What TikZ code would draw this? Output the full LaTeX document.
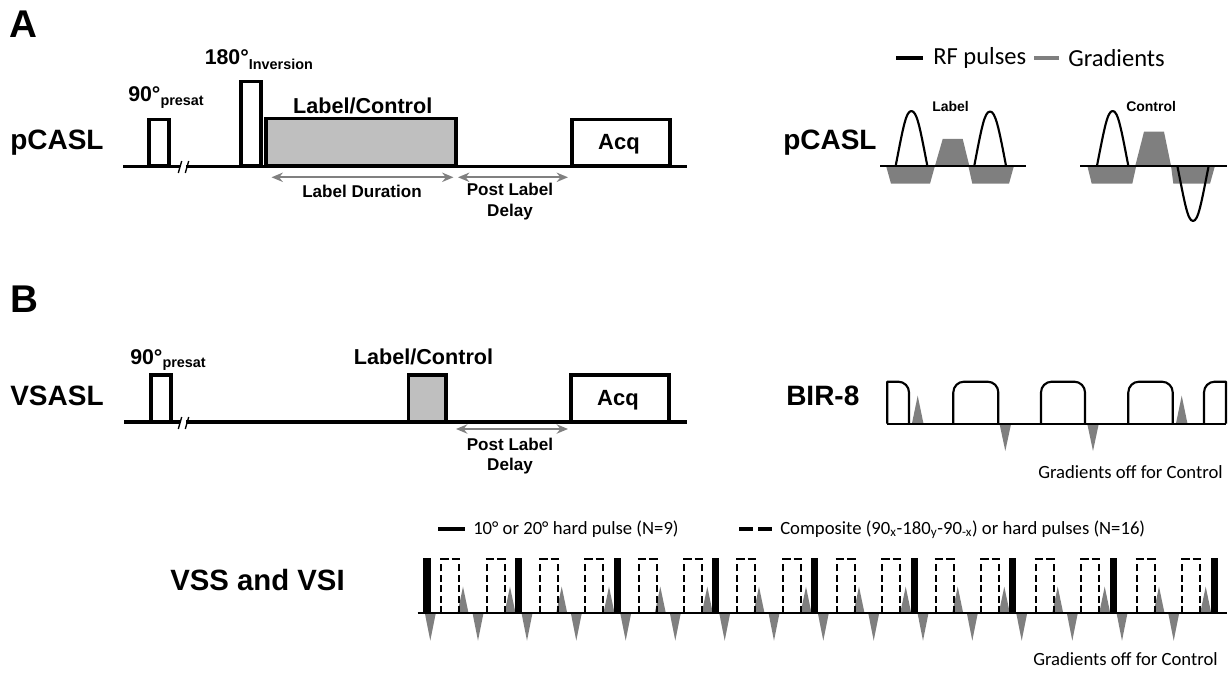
\documentclass[tikz,border=0pt]{standalone}
\usepackage{fontspec}
\setmainfont{Liberation Sans}
\newfontfamily\calfont{Carlito}
\usetikzlibrary{arrows.meta}
\newcommand{\fsz}[1]{\fontsize{#1}{#1}\selectfont}
\tikzset{
  >={Stealth[length=8.5pt,width=7pt]},
  seqline/.style={line width=2.5pt, black},
  pulsebox/.style={line width=2.5pt, black, fill=white, line join=miter},
  labelbox/.style={line width=2.5pt, black, fill=labgray},
  span/.style={<->, line width=1.4pt, spangray},
  grad/.style={fill=gradgray, draw=none},
  rfline/.style={line width=1.6pt, black, line join=round},
  hardpulse/.style={fill=black, draw=none},
  comppulse/.style={line width=1.5pt, black, dash pattern=on 5.2pt off 2.6pt},
  comptop/.style={line width=1.5pt, black},
  letter/.style={font=\bfseries\fsz{29}, anchor=base west, inner sep=0pt},
  seqname/.style={font=\bfseries\fsz{21}, anchor=base west, inner sep=0pt},
  bold/.style={font=\bfseries\fsz{16.2}, anchor=base, inner sep=0pt},
  mid/.style={font=\bfseries\fsz{12.8}, anchor=base, inner sep=0pt},
  small/.style={font=\bfseries\fsz{10.5}, anchor=base west, inner sep=0pt},
  note/.style={font=\calfont\fsz{14}, anchor=base west, inner sep=0pt},
  legend/.style={font=\calfont\fsz{18.4}, anchor=base west, inner sep=0pt},
}
\definecolor{labgray}{HTML}{BFBFBF}
\definecolor{gradgray}{HTML}{7F7F7F}
\definecolor{spangray}{HTML}{808080}
\begin{document}
\begin{tikzpicture}[x=0.75pt,y=-0.75pt]
  \useasboundingbox (0,0) rectangle (1231,673);
  % panel A, sequence
  \node[letter] (lettera) at (9.5,37.5) {A};
  \node[seqname] (pcasla) at (10,150) {pCASL};
  \draw[seqline] (123,166.3) -- (180,166.3) (186,166.3) -- (687,166.3);
  \draw[line width=1pt] (178.3,173) -- (181.7,161) (185.3,173) -- (188.7,161);
  \draw[pulsebox] (149,166) rectangle (169,119.3);
  \draw[pulsebox] (241,166) rectangle (261,81.3);
  \draw[labelbox] (266,166) rectangle (456,118.7);
  \draw[pulsebox] (572,166) rectangle (670,119.3);
  \node[bold, font=\bfseries\fsz{16.5}] (acqa) at (619,150) {Acq};
  \node[anchor=base west, inner sep=0pt, font=\bfseries\fsz{16}] (pre90a) at (128,101.7)
    {90°{\fsz{10.8}\raisebox{-2.8pt}{presat}}};
  \node[anchor=base west, inner sep=0pt, font=\bfseries\fsz{16}] (inv180) at (204.5,65)
    {180°{\fsz{10.8}\raisebox{-3.4pt}{Inversion}}};
  \node[bold] (labctla) at (362.7,114) {Label/Control};
  \draw[span] (271.5,177.3) -- (453.5,177.3);
  \draw[span] (458,177.3) -- (568,177.3);
  \node[mid] (durtext) at (362,198) {Label Duration};
  \node[mid] (plda1) at (510,196) {Post Label};
  \node[mid] (plda2) at (510,217) {Delay};
  % panel A, legend and RF shapes
  \draw[line width=3pt] (896,57.7) -- (923.3,57.7);
  \draw[line width=3pt, gradgray] (1034,58) -- (1059.3,58);
  \node[legend] (rflabel) at (933,64.5) {RF pulses};
  \node[legend] (gradlabel) at (1068,66.5) {Gradients};
  \node[seqname] (pcaslb) at (783,150) {pCASL};
  \node[small] (lablabel) at (932,111.7) {Label};
  \node[small] (ctllabel) at (1126,111.7) {Control};
  \fill[grad] (886,165.7) -- (891,183.7) -- (930,183.7) -- (935,165.7) -- cycle;
  \fill[grad] (935,165.7) -- (942.7,139) -- (962.7,139) -- (969.3,165.7) -- cycle;
  \fill[grad] (968.3,165.7) -- (972.3,183.7) -- (1009,183.7) -- (1014,165.7) -- cycle;
  \fill[grad] (1087.3,165.7) -- (1091.7,183.7) -- (1132.3,183.7) -- (1136.3,165.7) -- cycle;
  \fill[grad] (1135.3,165.7) -- (1144,131.7) -- (1164,131.7) -- (1171,165.7) -- cycle;
  \fill[grad] (1171,165.7) -- (1173.3,183.7) -- (1210,183.7) -- (1215,165.7) -- cycle;
  \draw[rfline] (880,165.7) -- (1026,165.7);
  \draw[rfline] (1080,165.7) -- (1226.7,165.7);
  \draw[rfline] (895.7,165.7) .. controls (903,128) and (906,111) .. (911.3,111) .. controls (917,111) and (920,128) .. (927.3,165.7);
  \draw[rfline] (974.3,165.7) .. controls (981.5,128) and (984.5,111.5) .. (990,111.5) .. controls (995.5,111.5) and (998.8,128) .. (1006,165.7);
  \draw[rfline] (1097,165.7) .. controls (1104.4,128) and (1107.4,111) .. (1112.7,111) .. controls (1118,111) and (1121,128) .. (1128.3,165.7);
  \draw[rfline] (1177.3,165.7) .. controls (1184.7,203) and (1187.7,221) .. (1193,221) .. controls (1198.3,221) and (1201.3,203) .. (1208.7,165.7);
  % panel B, sequence
  \node[letter] (letterb) at (10.5,313) {B};
  \node[seqname] (vsasl) at (10,405) {VSASL};
  \draw[seqline] (124,422) -- (180,422) (186,422) -- (687,422);
  \draw[line width=1pt] (178.3,429) -- (181.7,417) (185.3,429) -- (188.7,417);
  \draw[pulsebox] (151,422) rectangle (171,375);
  \draw[labelbox] (408.5,422) rectangle (446,375);
  \draw[pulsebox] (571,422) rectangle (669,375);
  \node[bold, font=\bfseries\fsz{16.5}] (acqb) at (618,405) {Acq};
  \node[anchor=base west, inner sep=0pt, font=\bfseries\fsz{16}] (pre90b) at (130,364)
    {90°{\fsz{10.8}\raisebox{-2.8pt}{presat}}};
  \node[bold] (labctlb) at (423.5,364) {Label/Control};
  \draw[span] (456,429) -- (568,429);
  \node[mid] (pldb1) at (510,450) {Post Label};
  \node[mid] (pldb2) at (510,470) {Delay};
  % panel B, BIR-8
  \node[seqname] (bir) at (786,405) {BIR-8};
  \foreach \xa/\xb in {953.3/998.3, 1041/1085, 1128.3/1172.7}
    \draw[rfline, rounded corners=8pt] (\xa,423.7) -- (\xa,381.7) -- (\xb,381.7) -- (\xb,423.7);
  \draw[rfline] (909,423.7) [rounded corners=8pt] -- (909,381.7) [sharp corners] -- (887.3,381.7) -- (887.3,423.7);
  \draw[rfline] (1204,423.7) [rounded corners=8pt] -- (1204,381.7) [sharp corners] -- (1226,381.7) -- (1226,423.7);
  \foreach \xc in {917.7, 1181.7}
    \fill[grad] (\xc-5.8,423.7) -- (\xc,395.7) -- (\xc+5.8,423.7) -- cycle;
  \foreach \xc in {1005.3, 1093}
    \fill[grad] (\xc-5.8,423.7) -- (\xc,451) -- (\xc+5.8,423.7) -- cycle;
  \draw[rfline] (887.3,423.7) -- (1226,423.7);
  \node[note] (offa) at (1038,478) {Gradients off for Control};
  % panel B, VSS and VSI
  \node[seqname, font=\bfseries\fsz{22}] (vss) at (170,590) {VSS and VSI};
  \draw[line width=3pt] (438,529) -- (465,529);
  \draw[line width=3pt] (739,529) -- (753,529) (758,529) -- (772,529);
  \node[note] (hardtext) at (473,534) {10° or 20° hard pulse (N=9)};
  \node[note] (comptext) at (780,534) {Composite (90\textsubscript{x}-180\textsubscript{y}-90\textsubscript{-x}) or hard pulses (N=16)};
  \foreach \xc in {463, 561.7, 660.3, 759, 859, 957.7, 1057.7, 1159,
                   510, 609, 707.3, 806, 905.7, 1004.3, 1104.7, 1205.7}
    \fill[grad] (\xc-5.5,613) -- (\xc,586.7) -- (\xc+5.5,613) -- cycle;
  \foreach \xc in {430.3, 478, 527, 576.3, 625.7, 675.3, 724.7, 774, 823.3,
                   873.7, 923, 972.3, 1021.7, 1072.3, 1122, 1173.7}
    \fill[grad] (\xc-5.5,613) -- (\xc,640.7) -- (\xc+5.5,613) -- cycle;
  \foreach \xa in {441, 486.7, 540, 585, 638.7, 684, 737, 783,
                   836.7, 882, 935.7, 981, 1035.7, 1081, 1136.7, 1182} {
    \draw[comppulse] (\xa,613) -- (\xa,562);
    \draw[comppulse] (\xa+18,613) -- (\xa+18,562);
    \draw[comptop] (\xa-1,558.7) -- (\xa+7.5,558.7) (\xa+10.5,558.7) -- (\xa+19,558.7);
  }
  \foreach \xa in {423.3, 515, 613.7, 712, 811, 910.7, 1009, 1109.7, 1210.7}
    \fill[hardpulse] (\xa,613) rectangle (\xa+7.4,558);
  \draw[rfline] (417.7,613) -- (1227,613);
  \node[note] (offb) at (1033,665) {Gradients off for Control};
\end{tikzpicture}
\end{document}
